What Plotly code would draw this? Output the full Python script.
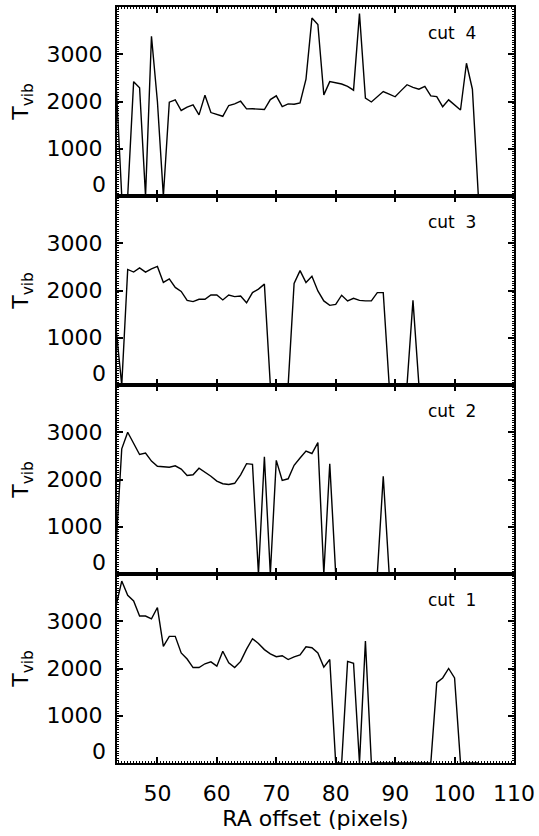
import plotly.graph_objects as go
from plotly.subplots import make_subplots

x = list(range(43, 105))

cut1 = [3300, 3850, 3550, 3430, 3110, 3110, 3050, 3290, 2470, 2680,
        2680, 2330, 2200, 2020, 2020, 2100, 2140, 2050, 2365, 2120,
        2020, 2150, 2410, 2630, 2530, 2400, 2310, 2250, 2270, 2190,
        2245, 2290, 2460, 2440, 2330, 2030, 2190, 0, 0, 2150,
        2110, 0, 2580, 0, 0, 0, 0, 0, 0, 0,
        0, 0, 0, 0, 1700, 1800, 2000, 1800, 0, 0,
        0, 0]

cut2 = [500, 2650, 3000, 2780, 2530, 2560, 2390, 2280, 2270, 2260,
        2290, 2220, 2085, 2100, 2240, 2160, 2070, 1965, 1910, 1895,
        1920, 2100, 2335, 2320, 0, 2480, 0, 2405, 1980, 2015,
        2300, 2455, 2600, 2550, 2780, 0, 2335, 0, 0, 0,
        0, 0, 0, 0, 0, 2070, 0, 0, 0, 0,
        0, 0, 0, 0, 0, 0, 0, 0, 0, 0,
        0, 0]

cut3 = [1250, 0, 2445, 2390, 2480, 2390, 2460, 2510, 2170, 2245,
        2065, 1980, 1790, 1765, 1815, 1815, 1905, 1905, 1800, 1905,
        1870, 1885, 1740, 1955, 2030, 2135, 0, 0, 0, 0,
        2150, 2420, 2170, 2300, 1990, 1780, 1685, 1705, 1900, 1780,
        1835, 1790, 1780, 1780, 1955, 1955, 0, 0, 0, 0,
        1790, 0, 0, 0, 0, 0, 0, 0, 0, 0,
        0, 0]

cut4 = [2500, 0, 0, 2420, 2290, 0, 3380, 2000, 0, 1985,
        2035, 1810, 1880, 1930, 1717, 2134, 1766, 1730, 1687, 1915,
        1950, 2006, 1844, 1845, 1845, 1830, 2040, 2120, 1890, 1950,
        1943, 1970, 2475, 3766, 3630, 2140, 2420, 2400, 2370, 2320,
        2240, 3860, 2070, 1990, 2100, 2210, 2155, 2100, 2230, 2355,
        2300, 2260, 2320, 2120, 2105, 1890, 2035, 1930, 1820, 2810,
        2260, 0]

series = [("cut  4", cut4), ("cut  3", cut3), ("cut  2", cut2), ("cut  1", cut1)]
ytickvals = [1000, 2000, 3000]
xtickvals = [50, 60, 70, 80, 90, 100, 110]

FONT = "DejaVu Sans"
FS = 22

fig = make_subplots(rows=4, cols=1, shared_xaxes=True, vertical_spacing=0)

for i, (name, vals) in enumerate(series):
    r = i + 1
    fig.add_trace(go.Scatter(x=x, y=vals, mode="lines",
                             line=dict(color="black", width=1.4),
                             showlegend=False), row=r, col=1)
    fig.update_yaxes(range=[0, 4000], tickvals=ytickvals,
                     ticks="inside", ticklen=6, tickwidth=1.5, tickcolor="black",
                     showline=True, linewidth=2, linecolor="black",
                     mirror="allticks", showgrid=False, zeroline=False,
                     ticklabelstandoff=8,
                     minor=dict(dtick=50, tick0=0, ticks="inside", ticklen=2,
                                tickwidth=1, tickcolor="black"),
                     tickfont=dict(family=FONT, size=FS, color="black"),
                     title=dict(text="T<sub>vib</sub>", standoff=12,
                                font=dict(family=FONT, size=FS, color="black")),
                     row=r, col=1)
    fig.update_xaxes(range=[43.2, 110], tickvals=xtickvals,
                     ticks="inside", ticklen=6, tickwidth=1.5, tickcolor="black",
                     showline=True, linewidth=2, linecolor="black",
                     mirror="allticks", showgrid=False, zeroline=False,
                     minor=dict(dtick=0.5, tick0=0, ticks="inside", ticklen=2,
                                tickwidth=1, tickcolor="black"),
                     tickfont=dict(family=FONT, size=FS, color="black"),
                     showticklabels=(r == 4), ticklabelstandoff=10,
                     row=r, col=1)
    yref = "y" if r == 1 else f"y{r}"
    xref = "x" if r == 1 else f"x{r}"
    fig.add_annotation(x=99.5, y=3450, xref=xref, yref=yref, text=name,
                       showarrow=False,
                       font=dict(family=FONT, size=17, color="black"))
    fig.add_annotation(x=0, y=0, xref="paper", yref=yref, text="0",
                       xanchor="right", yanchor="bottom", xshift=-9, yshift=-3,
                       showarrow=False,
                       font=dict(family=FONT, size=FS, color="black"))

fig.update_xaxes(title=dict(text="RA offset (pixels)", standoff=2,
                            font=dict(family=FONT, size=FS, color="black")),
                 row=4, col=1)

fig.update_layout(width=539, height=836,
                  margin=dict(l=117, r=25, t=7, b=73, autoexpand=False),
                  plot_bgcolor="white", paper_bgcolor="white")

fig.write_html("out.html")
